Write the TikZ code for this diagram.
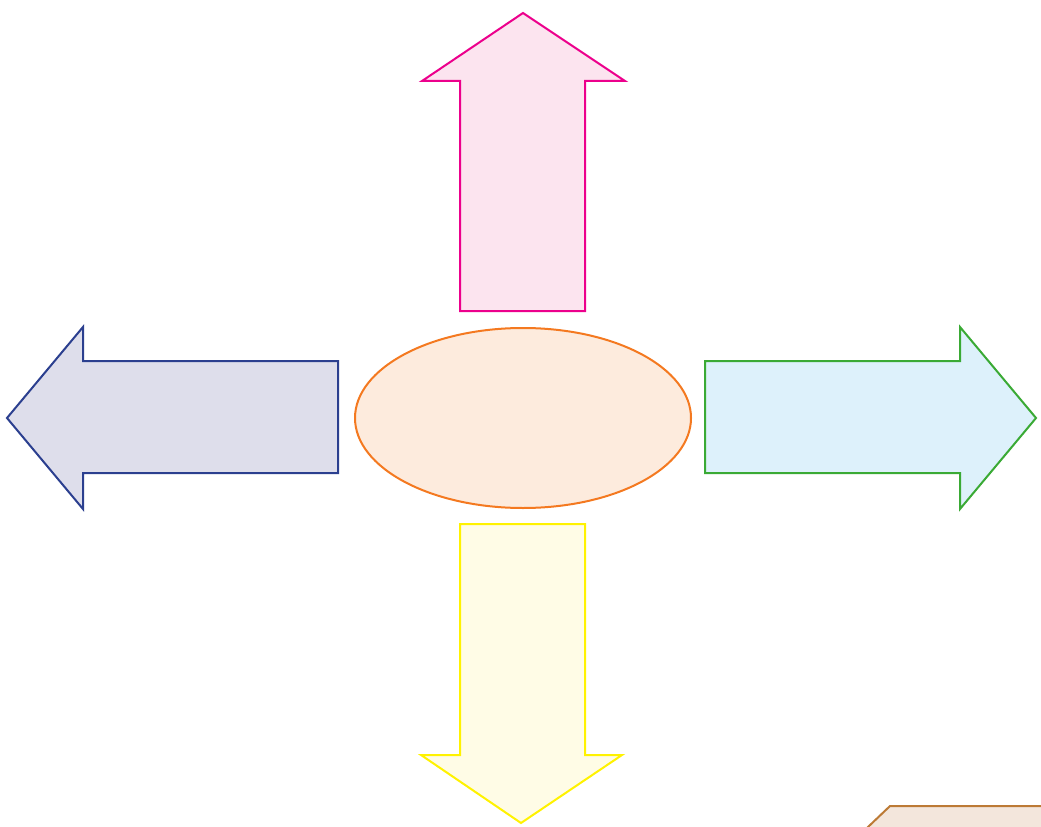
\documentclass[tikz,border=0pt]{standalone}
\usetikzlibrary{positioning}
\definecolor{pinkline}{HTML}{EC008C}
\definecolor{pinkfill}{HTML}{FCE4EF}
\definecolor{blueline}{HTML}{2B3F8F}
\definecolor{bluefill}{HTML}{DEDEEB}
\definecolor{greenline}{HTML}{3AAA35}
\definecolor{greenfill}{HTML}{DDF1FB}
\definecolor{yellowline}{HTML}{FFF200}
\definecolor{yellowfill}{HTML}{FFFCE6}
\definecolor{orangeline}{HTML}{F47920}
\definecolor{orangefill}{HTML}{FDEBDD}
\definecolor{brownline}{HTML}{BC7A35}
\definecolor{brownfill}{HTML}{F3E6DC}
\tikzset{
  shapeline/.style={line width=1.5pt,line join=miter}
}
\begin{document}
\begin{tikzpicture}[x=0.75pt,y=-0.75pt]
        \useasboundingbox (0,0) rectangle (1041,827);
        \clip (0,0) rectangle (1041,827);
        % arrow up
        \draw[shapeline,draw=pinkline,fill=pinkfill] (523,13) -- (625,81) -- (585,81) -- (585,311)
          -- (460,311) -- (460,81) -- (422,81) -- cycle;
        % arrow left
        \draw[shapeline,draw=blueline,fill=bluefill] (7,418) -- (83,327) -- (83,361) -- (338,361)
          -- (338,473) -- (83,473) -- (83,509) -- cycle;
        % arrow right
        \draw[shapeline,draw=greenline,fill=greenfill] (1036,418) -- (960,327) -- (960,361) -- (705,361)
          -- (705,473) -- (960,473) -- (960,509) -- cycle;
        % arrow down
        \draw[shapeline,draw=yellowline,fill=yellowfill] (521,823) -- (622,755) -- (585,755) -- (585,524)
          -- (460,524) -- (460,755) -- (421,755) -- cycle;
        % centre
        \draw[shapeline,draw=orangeline,fill=orangefill] (523,418) ellipse [x radius=168,y radius=90];
        % corner shape
        \draw[shapeline,draw=brownline,fill=brownfill] (847,847) -- (890,806) -- (1060,806) -- (1060,847) -- cycle;
      \end{tikzpicture}
\end{document}
